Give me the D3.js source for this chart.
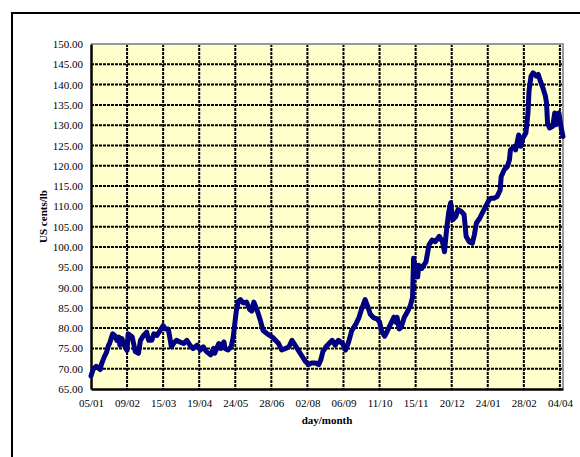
<!DOCTYPE html>
<html>
<head>
<meta charset="utf-8">
<script src="https://cdn.jsdelivr.net/npm/d3@7"></script>
<style>
  html, body { margin: 0; padding: 0; background: #ffffff; }
  svg { display: block; }
</style>
</head>
<body>
<svg id="chart" width="580" height="457"></svg>
<script>
// ---- data ----
const startDate = "2004-01-05";
const dayOffsets = [0,2,5,9,10,13,15,17,18,21,23,25,27,28,30,33,35,36,40,43,46,48,51,54,56,59,61,64,67,70,72,75,78,80,83,86,90,93,96,99,103,106,109,112,116,119,120,124,126,129,130,133,136,138,141,143,145,148,151,154,156,158,159,162,164,167,171,176,179,182,185,189,192,195,198,202,205,208,211,214,218,221,223,225,228,231,234,237,240,244,247,250,253,257,260,263,266,269,271,274,278,280,282,285,287,290,294,296,297,299,301,304,307,310,312,313,315,317,318,321,325,328,331,334,338,341,343,345,347,349,351,354,356,359,362,364,367,370,372,374,377,380,383,386,388,391,394,397,398,401,404,406,407,411,412,415,417,419,422,424,425,427,429,432,434,436,439,441,442,443,445,448,450,451,453,454,456,458];
const prices = [68.2,69.8,70.6,69.8,71,73,74,75.8,76.2,78.6,78.2,77,77.8,75.8,77.4,75.4,74.5,78.6,77.8,74.2,73.8,77,78.2,79,77,77,78.6,78.2,79.4,80.6,79.8,79.8,75.4,76.2,77,76.6,76.2,77,75.8,75,75.8,74.6,75.4,74.2,73.4,75,73.8,76.2,75,76.6,75,74.6,75.4,77.8,84.2,86.6,87,86.2,86.4,84.6,84.2,86.4,85.8,83.8,82.2,79.4,78.6,77.8,77,76.2,74.6,75,75.4,77,75.8,74.2,73,71.8,71,71.4,71.4,71,72.2,74.2,75.4,76.2,77,75.8,77,76.2,74.6,76.6,79.4,81,82.6,85,87,85,83.4,82.6,82.2,81.5,79.3,78,79,80.6,82.7,81.4,82.7,79.8,80.2,82.7,84,85.6,87.6,97.2,94.3,92.6,95.5,94.7,96.3,100.5,101.7,101.3,102.6,101.3,98.8,104.2,108.4,110.9,106.7,107.5,109.2,108.8,108,102.6,101.3,100.9,103,105.9,107,108.5,110,111.5,112,112,112.4,114,117.3,119,119.8,121.4,123.9,124.8,123.9,127.6,124.8,126.8,128.1,133,138.4,142.1,142.9,142.1,142.5,140.9,138.8,137.1,135.5,130.5,129.3,129.7,133,130.1,131.4,133,129.7,127.2];
const xTickDates = ["2004-01-05","2004-02-09","2004-03-15","2004-04-19","2004-05-24","2004-06-28","2004-08-02","2004-09-06","2004-10-11","2004-11-15","2004-12-20","2005-01-24","2005-02-28","2005-04-04"];
const yTicks = [65,70,75,80,85,90,95,100,105,110,115,120,125,130,135,140,145,150];
const yTitle = "US cents/lb";
const xTitle = "day/month";

// ---- layout ----
const svg = d3.select("#chart");
const pL = 91, pR = 563, pT = 44, pB = 389;
const parse = d3.utcParse("%Y-%m-%d");
const start = parse(startDate);
const data = dayOffsets.map((d, i) => ({ date: d3.utcDay.offset(start, d), v: prices[i] }));

const x = d3.scaleUtc()
  .domain([start, d3.utcDay.offset(start, 458)])
  .range([pL, pR]);
const y = d3.scaleLinear().domain([65, 150]).range([pB, pT]);
const fmtX = d3.utcFormat("%d/%m");
const serif = "'Liberation Serif','Times New Roman',serif";

// outer frame
svg.append("rect").attr("x", 12).attr("y", 13).attr("width", 620).attr("height", 520)
  .attr("fill", "none").attr("stroke", "#000").attr("stroke-width", 2);

// plot background
svg.append("rect").attr("x", pL).attr("y", pT).attr("width", pR - pL).attr("height", pB - pT)
  .attr("fill", "#FFFFCC");

// horizontal grid lines
svg.append("g").selectAll("line").data(yTicks.filter(t => t > 65 && t < 150)).join("line")
  .attr("x1", pL).attr("x2", pR)
  .attr("y1", d => y(d)).attr("y2", d => y(d))
  .attr("stroke", "#000").attr("stroke-width", 2).attr("stroke-dasharray", "3,1");

// vertical grid lines
svg.append("g").selectAll("line").data(xTickDates.slice(1).map(parse)).join("line")
  .attr("x1", d => x(d)).attr("x2", d => x(d))
  .attr("y1", pT).attr("y2", pB)
  .attr("stroke", "#000").attr("stroke-width", 2).attr("stroke-dasharray", "3,1");

// plot border (top/right gray)
svg.append("path")
  .attr("d", `M${pL},${pT}H${pR}V${pB}`)
  .attr("fill", "none").attr("stroke", "#999").attr("stroke-width", 2);

// axes
const yAxis = d3.axisLeft(y).tickValues(yTicks).tickFormat(d3.format(".2f")).tickSize(0).tickPadding(8);
const gy = svg.append("g").attr("transform", `translate(${pL},0)`).call(yAxis);
gy.select(".domain").attr("stroke", "#000").attr("stroke-width", 2.5);
gy.selectAll("text").attr("font-family", serif).attr("font-size", 11).attr("fill", "#000");

const xAxis = d3.axisBottom(x).tickValues(xTickDates.map(parse)).tickFormat(fmtX).tickSize(0).tickPadding(10);
const gx = svg.append("g").attr("transform", `translate(0,${pB})`).call(xAxis);
gx.select(".domain").attr("stroke", "#000").attr("stroke-width", 2.5);
gx.selectAll("text").attr("font-family", serif).attr("font-size", 11).attr("fill", "#000");

// line
const line = d3.line().x(d => x(d.date)).y(d => y(d.v));
svg.append("path").datum(data)
  .attr("d", line)
  .attr("fill", "none").attr("stroke", "#000080").attr("stroke-width", 5)
  .attr("stroke-linejoin", "round").attr("stroke-linecap", "round");

// titles
svg.append("text").attr("transform", `translate(47,${(pT + pB) / 2}) rotate(-90)`)
  .attr("text-anchor", "middle")
  .attr("font-family", serif).attr("font-size", 11).attr("font-weight", "bold")
  .text(yTitle);
svg.append("text").attr("x", 327).attr("y", 424).attr("text-anchor", "middle")
  .attr("font-family", serif).attr("font-size", 11).attr("font-weight", "bold")
  .text(xTitle);
</script>
</body>
</html>
